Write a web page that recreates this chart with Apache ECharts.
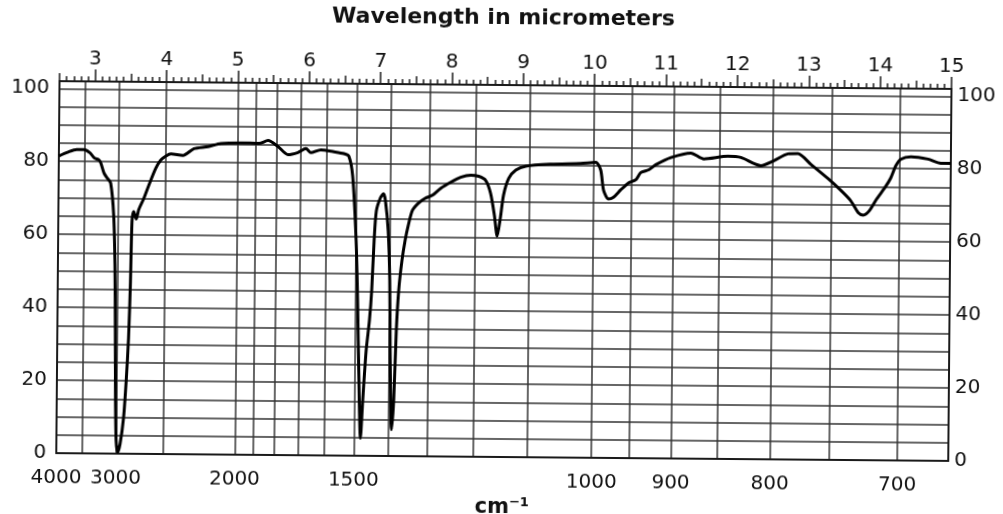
<!DOCTYPE html>
<html lang="en">
<head>
<meta charset="UTF-8">
<title>IR spectrum</title>
<script src="https://cdn.jsdelivr.net/npm/echarts@6/dist/echarts.min.js"></script>
<style>
    body { margin: 0; background: #fff; }
    /* the scanned original sits a touch clockwise */
    #root { width: 1003px; height: 514px; transform: rotate(0.5deg); }
</style>
</head>
<body>
<div id="root"></div>
<script>
// trace: wavelength in micrometers, % transmittance
var wavelength = [
    2.5, 2.62, 2.75, 2.85, 2.93, 3.0, 3.06, 3.09, 3.135, 3.182,
    3.229, 3.275, 3.299, 3.313, 3.323, 3.337, 3.359, 3.393, 3.439, 3.471,
    3.499, 3.519, 3.533, 3.555, 3.593, 3.625, 3.695, 3.765, 3.859, 3.929,
    4.0, 4.07, 4.238, 4.392, 4.588, 4.77, 5.05, 5.303, 5.429, 5.569,
    5.709, 5.849, 5.961, 6.031, 6.171, 6.354, 6.494, 6.564, 6.62, 6.676,
    6.704, 6.732, 6.76, 6.788, 6.83, 6.872, 6.9, 6.928, 6.956, 7.012,
    7.054, 7.082, 7.124, 7.152, 7.166, 7.194, 7.222, 7.25, 7.279, 7.321,
    7.363, 7.405, 7.461, 7.545, 7.643, 7.741, 7.853, 7.993, 8.133, 8.274,
    8.386, 8.484, 8.554, 8.61, 8.652, 8.694, 8.736, 8.806, 8.904, 9.044,
    9.395, 9.815, 10.025, 10.095, 10.137, 10.207, 10.278, 10.376, 10.488, 10.586,
    10.656, 10.768, 10.866, 11.076, 11.356, 11.539, 11.875, 12.057, 12.337, 12.52,
    12.716, 12.856, 13.038, 13.276, 13.458, 13.598, 13.711, 13.78, 13.86, 13.96,
    14.08, 14.159, 14.23, 14.3, 14.44, 14.678, 14.86, 15.0
];
var transmittance = [
    81.5, 82.5, 83.3, 83.3, 82.5, 81, 80.5, 79.6, 76.9, 75.5,
    74.2, 65.5, 52, 33.7, 15.4, 3.6, 0.4, 2.7, 10, 20,
    31.8, 47.3, 63.7, 66.4, 64.4, 66.9, 70, 73.7, 78.3, 80.6,
    81.7, 82.3, 81.9, 83.8, 84.4, 85.3, 85.5, 85.4, 86.2, 84.6,
    82.4, 83, 84.1, 83, 83.8, 83.3, 82.8, 82.1, 76.6, 58.9,
    42.5, 20.6, 4.8, 15.2, 28.9, 37.1, 45.3, 59, 67.2, 70.8,
    71.9, 70, 61.8, 48.2, 29, 7.2, 15.4, 34.5, 45.5, 53.7,
    59.2, 63.3, 67.4, 69.4, 70.8, 71.6, 73.5, 75.2, 76.6, 77.2,
    76.9, 75.8, 72.3, 66.3, 60.5, 65.5, 71.8, 76.4, 78.7, 79.8,
    80.4, 80.7, 81, 78.9, 73.4, 71, 71.5, 73.5, 75.5, 76.3,
    78.3, 79.1, 80.5, 82.5, 83.8, 82.2, 83, 82.7, 80.5, 81.9,
    83.8, 83.9, 81, 77.2, 74, 71.2, 67.8, 67.2, 68.3, 71.5,
    74.8, 77.4, 80.8, 82.6, 83.3, 82.7, 81.6, 81.6
];

// vertical grid lines and bottom labels sit at round wavenumbers (cm-1)
var gridWavenumbers = [3500, 3000, 2500, 2000, 1900, 1800, 1700, 1600, 1500, 1400,
    1300, 1200, 1100, 1000, 950, 900, 850, 800, 750, 700];
var wavenumberLabels = [4000, 3000, 2000, 1500, 1000, 900, 800, 700];
var micronLabels = [3, 4, 5, 6, 7, 8, 9, 10, 11, 12, 13, 14, 15];

function toMicron(wn) { return 10000 / wn; }

var ink = '#1a1a1a';
var font = 'DejaVu Sans';
var plotRect = { left: 58, right: 53, top: 85, bottom: 57, outerBoundsMode: 'none' };

var points = wavelength.map(function (w, i) { return [w, transmittance[i]]; });

var chart = echarts.init(document.getElementById('root'));

chart.setOption({
    animation: false,
    title: {
        text: 'Wavelength in micrometers',
        left: 'center',
        top: 2,
        textStyle: { fontFamily: font, fontSize: 22, fontWeight: 'bold', color: '#111' }
    },
    // second grid on the same rectangle only carries the whole-micron ticks
    grid: [plotRect, Object.assign({}, plotRect)],
    xAxis: [{
        // bottom: wavenumber labels, vertical grid
        type: 'value',
        gridIndex: 0,
        position: 'bottom',
        min: 2.5,
        max: 15,
        axisLine: { show: true, onZero: false, lineStyle: { color: ink, width: 2 } },
        axisTick: { show: false, customValues: gridWavenumbers.map(toMicron) },
        splitLine: { show: true, lineStyle: { color: '#333', width: 1.5 } },
        axisLabel: {
            customValues: wavenumberLabels.map(toMicron),
            formatter: function (v) { return Math.round(10000 / v); },
            margin: 15,
            fontFamily: font,
            fontSize: 20,
            color: '#111'
        },
        name: 'cm\u207B\u00B9',
        nameLocation: 'middle',
        nameGap: 36,
        nameTextStyle: { fontFamily: font, fontSize: 21, fontWeight: 'bold', color: '#111' }
    }, {
        // top: half-micron ticks with tenth minor ticks
        type: 'value',
        gridIndex: 0,
        position: 'top',
        min: 2.5,
        max: 15,
        interval: 0.5,
        axisLine: { show: true, onZero: false, lineStyle: { color: ink, width: 2 } },
        axisTick: { show: true, length: 8, lineStyle: { color: ink, width: 1.5 } },
        minorTick: { show: true, splitNumber: 5, length: 5, lineStyle: { color: ink, width: 1.5 } },
        axisLabel: { show: false },
        splitLine: { show: false }
    }, {
        // top: whole micrometers
        type: 'value',
        gridIndex: 1,
        position: 'top',
        min: 2.5,
        max: 15,
        axisLine: { show: false, onZero: false },
        axisTick: { show: true, customValues: micronLabels, length: 12, lineStyle: { color: ink, width: 1.5 } },
        axisLabel: { customValues: micronLabels, margin: 12, fontFamily: font, fontSize: 20, color: '#111' },
        splitLine: { show: false }
    }, {
        type: 'value',
        gridIndex: 1,
        position: 'bottom',
        min: 2.5,
        max: 15,
        show: false
    }],
    yAxis: [{
        type: 'value',
        gridIndex: 0,
        position: 'left',
        min: 0,
        max: 102,
        interval: 5,
        axisLine: { show: true, onZero: false, lineStyle: { color: ink, width: 2 } },
        axisTick: { show: false },
        splitLine: { show: true, lineStyle: { color: '#333', width: 1.5 } },
        axisLabel: {
            formatter: function (v) { return v % 20 === 0 ? v : ''; },
            margin: 10,
            fontFamily: font,
            fontSize: 20,
            color: '#111'
        }
    }, {
        type: 'value',
        gridIndex: 0,
        position: 'right',
        min: 0,
        max: 102,
        interval: 5,
        axisLine: { show: true, onZero: false, lineStyle: { color: ink, width: 2 } },
        axisTick: { show: false },
        splitLine: { show: false },
        axisLabel: {
            formatter: function (v) { return v % 20 === 0 ? v : ''; },
            margin: 6,
            fontFamily: font,
            fontSize: 20,
            color: '#111'
        }
    }, {
        type: 'value',
        gridIndex: 1,
        min: 0,
        max: 102,
        show: false
    }],
    series: [{
        type: 'line',
        xAxisIndex: 0,
        yAxisIndex: 0,
        data: points,
        showSymbol: false,
        smooth: 0.25,
        lineStyle: { color: '#000', width: 3 }
    }]
});
</script>
</body>
</html>
